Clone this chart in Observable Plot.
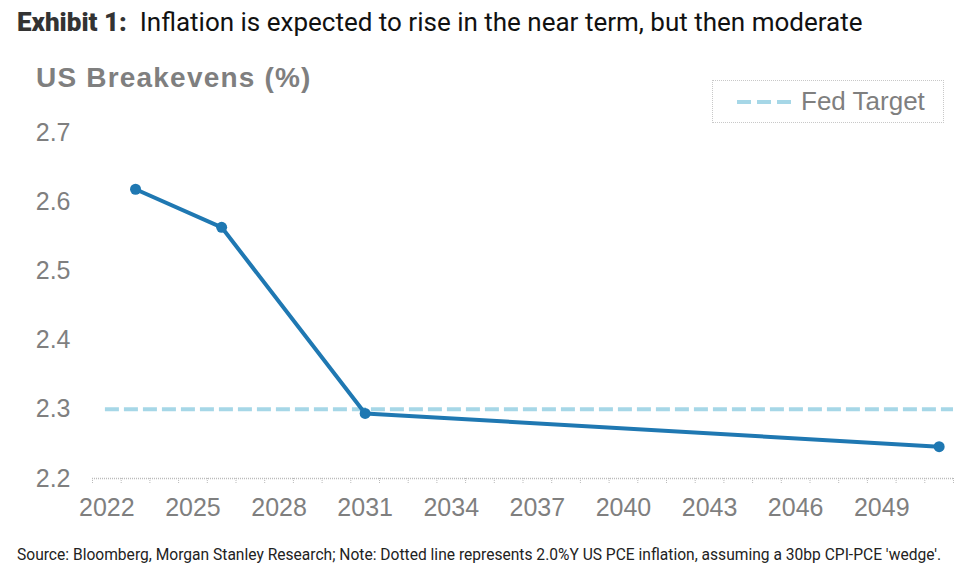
<!DOCTYPE html>
<html><head><meta charset="utf-8">
<script src="https://cdn.jsdelivr.net/npm/d3@7"></script>
<script src="https://cdn.jsdelivr.net/npm/@observablehq/plot@0.6"></script>
<style>
body{margin:0;background:#fff;width:979px;height:580px;overflow:hidden;position:relative;font-family:"Liberation Sans",Arial,sans-serif}
#chart{position:absolute;left:0;top:0}
.title{position:absolute;left:17px;top:7px;font-family:Roboto,sans-serif;font-size:26px;color:#111;white-space:nowrap}
.title b{font-weight:900;color:#333}
.sub{position:absolute;left:36px;top:62px;font-family:"Liberation Sans",Arial,sans-serif;font-weight:bold;font-size:28px;color:#7f7f7f;letter-spacing:1.2px;white-space:nowrap}
.legend{position:absolute;left:712px;top:80px;width:232px;height:43px;border:1.5px dotted #c8c8c8;box-sizing:border-box}
.legend svg{position:absolute;left:24px;top:18px}
.legend span{position:absolute;left:88px;top:5px;font-size:26px;color:#7f7f7f;white-space:nowrap}
.foot{position:absolute;left:17px;top:545px;font-family:Roboto,sans-serif;font-size:16px;color:#222;white-space:nowrap;transform-origin:0 0;transform:scaleX(0.974)}
</style></head><body>
<div id="chart"></div>
<div class="title"><b>Exhibit 1:</b>&nbsp; Inflation is expected to rise in the near term, but then moderate</div>
<div class="sub">US Breakevens (%)</div>
<div class="legend"><svg width="54" height="6"><line x1="0" y1="3" x2="54" y2="3" stroke="#a6d7e7" stroke-width="4" stroke-dasharray="14,6"/></svg><span>Fed Target</span></div>
<div class="foot">Source: Bloomberg, Morgan Stanley Research; Note: Dotted line represents 2.0%Y US PCE inflation, assuming a 30bp CPI-PCE 'wedge'.</div>
<script>
const years = [2023, 2026, 2031, 2051];
const breakevens = [2.618, 2.563, 2.294, 2.246];
const fedTarget = 2.3;
const yTicks = [2.2, 2.3, 2.4, 2.5, 2.6, 2.7];
const xLabelYears = [2022, 2025, 2028, 2031, 2034, 2037, 2040, 2043, 2046, 2049];
const firstYear = 2022, lastYear = 2051;

const data = years.map((y, i) => ({year: y, value: breakevens[i]}));
const boundaries = d3.range(firstYear - 0.5, lastYear + 1, 1);

const plot = Plot.plot({
  width: 979,
  height: 540,
  marginLeft: 92,
  marginRight: 26,
  marginTop: 132,
  marginBottom: 62,
  style: {fontFamily: '"Liberation Sans", Arial, sans-serif', background: "transparent"},
  x: {type: "linear", domain: [firstYear - 0.5, lastYear + 0.5]},
  y: {domain: [2.2, 2.7]},
  marks: [
    Plot.axisY({ticks: yTicks, tickSize: 0, tickPadding: 22, tickFormat: d3.format(".1f"), fontSize: 25, fill: "#7f7f7f", label: null}),
    Plot.axisX({ticks: boundaries, tickSize: 6, tickFormat: () => "", stroke: "#bbbbbb", strokeDasharray: "1,1", label: null}),
    Plot.axisX({ticks: xLabelYears, tickSize: 0, tickPadding: 20, tickFormat: d => String(d), fontSize: 25, fill: "#7f7f7f", label: null}),
    Plot.ruleY([2.2], {stroke: "#bbbbbb", strokeDasharray: "1,1", strokeWidth: 1.5}),
    Plot.ruleY([fedTarget], {x1: firstYear - 0.05, x2: lastYear + 0.5, stroke: "#a6d7e7", strokeWidth: 4, strokeDasharray: "14,5"}),
    Plot.line(data, {x: "year", y: "value", stroke: "#1f78b2", strokeWidth: 4}),
    Plot.dot(data, {x: "year", y: "value", fill: "#1f78b2", r: 5.5})
  ]
});
document.getElementById("chart").appendChild(plot);
</script>
</body></html>
